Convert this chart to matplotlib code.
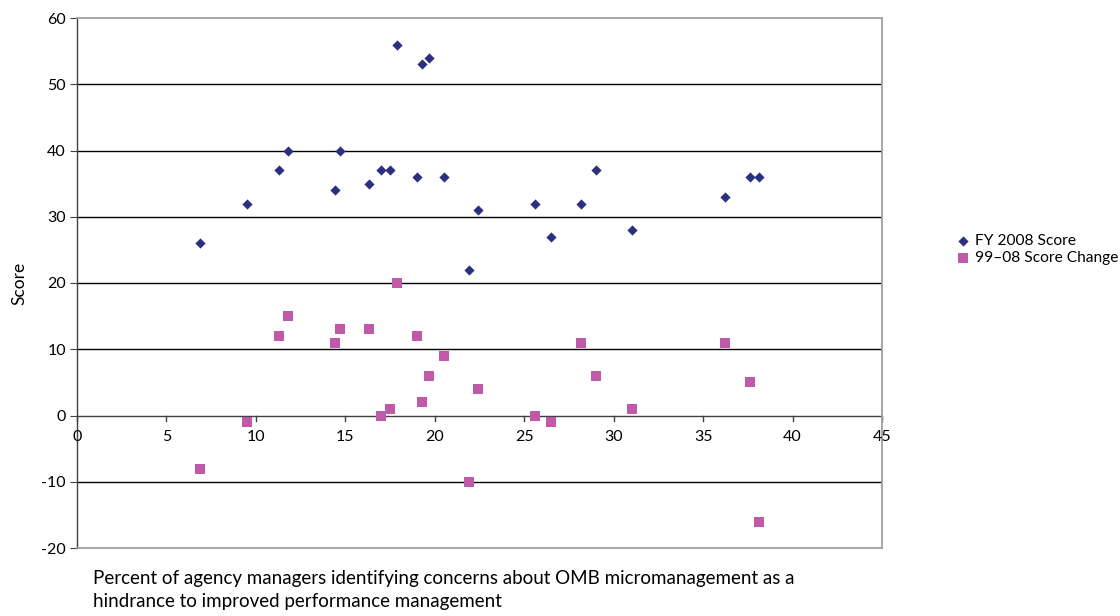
import matplotlib
matplotlib.use("Agg")
import matplotlib.pyplot as plt

pct = [6.9, 9.5, 11.3, 11.8, 14.4, 14.7, 16.3, 17.0, 17.5, 17.9, 19.0, 19.3,
       19.7, 20.5, 21.9, 22.4, 25.6, 26.5, 28.2, 29.0, 31.0, 36.2, 37.6, 38.1]
fy2008 = [26, 32, 37, 40, 34, 40, 35, 37, 37, 56, 36, 53,
          54, 36, 22, 31, 32, 27, 32, 37, 28, 33, 36, 36]
change = [-8, -1, 12, 15, 11, 13, 13, 0, 1, 20, 12, 2,
          6, 9, -10, 4, 0, -1, 11, 6, 1, 11, 5, -16]
series_names = ["FY 2008 Score", "99\u201308 Score Change"]
x_ticks = [0, 5, 10, 15, 20, 25, 30, 35, 40, 45]
y_ticks = [-20, -10, 0, 10, 20, 30, 40, 50, 60]

plt.rcParams['font.family'] = ['Lato', 'DejaVu Sans']

fig = plt.figure(figsize=(11.2, 6.16), dpi=100)
ax = fig.add_axes([77/1120, 1-548/616, (882-77)/1120, (548-18)/616])

ax.set_xlim(0, 45)
ax.set_ylim(-20, 60)

for y in y_ticks[1:-1]:
    if y != 0:
        ax.axhline(y, color='black', lw=1.0, zorder=1)

ax.scatter(pct, fy2008, marker='D', s=5.2**2, color='#2a2f7f', lw=0, zorder=3,
           label=series_names[0])
ax.scatter(pct, change, marker='s', s=6.6**2, color='#c05aa8', lw=0, zorder=3,
           label=series_names[1])

for s in ['top', 'right', 'bottom']:
    ax.spines[s].set_color('#a0a0a0')
    ax.spines[s].set_linewidth(1.3)
ax.spines['left'].set_color('#404040')
ax.spines['left'].set_linewidth(1.0)

# x-axis line at y=0
ax.axhline(0, color='#404040', lw=1.0, zorder=2)
ax.set_yticks(y_ticks)
ax.set_yticklabels([str(v) for v in y_ticks], fontsize=11.5)
ax.tick_params(axis='y', direction='out', length=5, color='#404040', pad=3)
ax.set_xticks([])
for xv in x_ticks:
    ax.plot([xv, xv], [0, -0.9], color='#404040', lw=1.0, clip_on=False, zorder=2)
    ax.text(xv, -2.2, str(xv), ha='center', va='top', fontsize=11.5)

ax.set_ylabel("Score", fontsize=12.5)
ax.yaxis.set_label_coords(-0.062, 0.5)

fig.text(93/1120, 1-570/616,
         "Percent of agency managers identifying concerns about OMB micromanagement as a\n"
         "hindrance to improved performance management",
         ha='left', va='top', fontsize=13.5, linespacing=1.45)

leg = fig.legend(loc='upper left', bbox_to_anchor=(952/1120, 1-228/616),
                 frameon=False, fontsize=11.2, handlelength=0.6, handletextpad=0.45,
                 labelspacing=0.2, borderaxespad=0)

fig.savefig("out.png", dpi=100)
